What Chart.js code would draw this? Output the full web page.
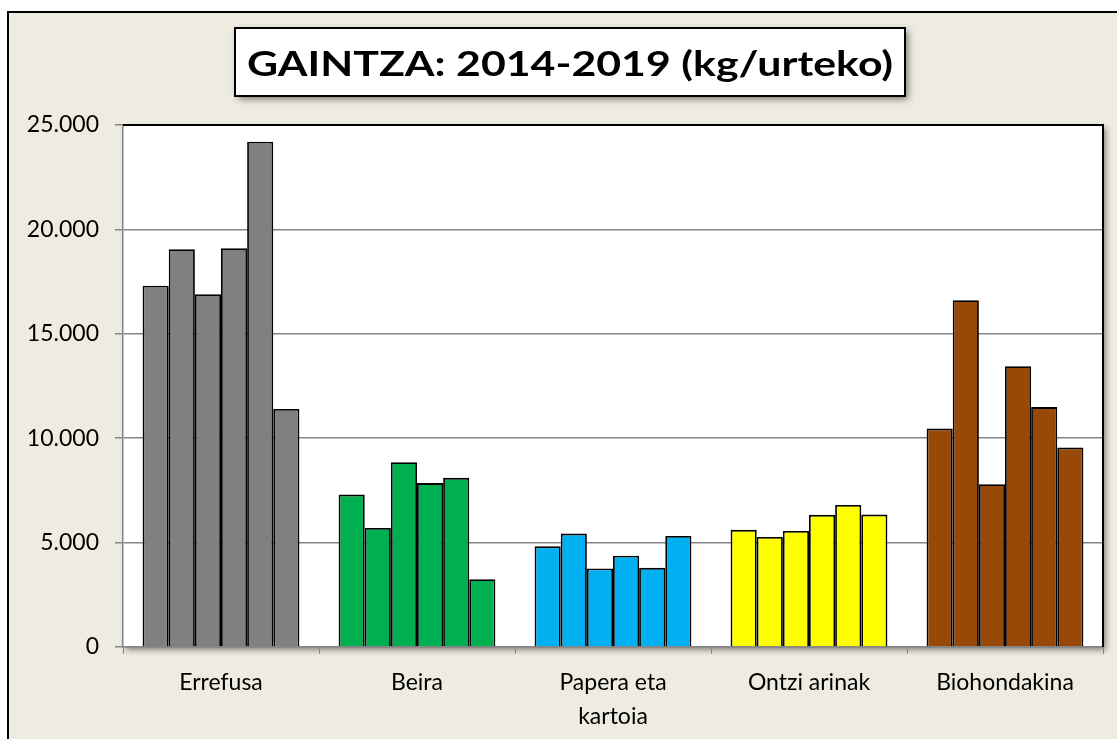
<!DOCTYPE html>
<html>
<head>
<meta charset="utf-8">
<style>
  html, body { margin: 0; padding: 0; background: #ffffff; }
  #wrap { width: 1117px; height: 739px; position: relative; }
</style>
<script src="https://cdn.jsdelivr.net/npm/chart.js@4/dist/chart.umd.min.js"></script>
</head>
<body>
<div id="wrap"><canvas id="gaintza"></canvas></div>
<script>
// Datuak (kg/urteko), 2014-2019
const kategoriak = ['Errefusa', 'Beira', ['Papera eta', 'kartoia'], 'Ontzi arinak', 'Biohondakina'];
const urteak = ['2014', '2015', '2016', '2017', '2018', '2019'];
const errefusa = [17300, 19050, 16900, 19100, 24200, 11400];
const beira = [7300, 5700, 8850, 7850, 8100, 3250];
const paperaKartoia = [4820, 5430, 3760, 4370, 3790, 5320];
const ontziArinak = [5610, 5270, 5560, 6330, 6800, 6340];
const biohondakina = [10460, 16610, 7800, 13450, 11490, 9550];
const yTicks = [0, 5000, 10000, 15000, 20000, 25000];

const izenburua = 'GAINTZA: 2014-2019 (kg/urteko)';
const koloreak = ['#808080', '#00B050', '#00B0F0', '#FFFF00', '#984807'];

// Urte bakoitzeko dataset bat (kategoria bakoitzeko balio bat)
const serieak = [errefusa, beira, paperaKartoia, ontziArinak, biohondakina];
const datasets = urteak.map((urtea, i) => ({
  label: urtea,
  data: serieak.map(s => s[i]),
  backgroundColor: koloreak,
  borderColor: '#000000',
  borderWidth: 1.8,
  borderSkipped: 'bottom',
  categoryPercentage: 0.8,
  barPercentage: 1.0
}));

function formatua(v) {
  return String(v).replace(/\B(?=(\d{3})+(?!\d))/g, '.');
}

// Atzealdea, grafiko-eremua eta izenburua
const apaingarriak = {
  id: 'apaingarriak',
  beforeDraw(chart) {
    const ctx = chart.ctx;
    const a = chart.chartArea;
    ctx.save();
    ctx.fillStyle = '#ffffff';
    ctx.fillRect(0, 0, chart.width, chart.height);
    // kanpoko markoa
    ctx.fillStyle = '#EEECE1';
    ctx.fillRect(8, 12, chart.width, chart.height);
    ctx.strokeStyle = '#000000';
    ctx.lineWidth = 2;
    ctx.beginPath();
    ctx.moveTo(8, chart.height + 5);
    ctx.lineTo(8, 12);
    ctx.lineTo(chart.width + 5, 12);
    ctx.stroke();
    // grafiko-eremua itzalarekin
    ctx.shadowColor = 'rgba(0,0,0,0.45)';
    ctx.shadowBlur = 6;
    ctx.shadowOffsetX = 3;
    ctx.shadowOffsetY = 3;
    ctx.fillStyle = '#ffffff';
    ctx.fillRect(a.left, a.top, a.right - a.left, a.bottom - a.top);
    ctx.shadowColor = 'transparent';
    // izenburuaren kutxa
    const bx = 235, by = 28, bw = 670, bh = 68;
    ctx.shadowColor = 'rgba(0,0,0,0.5)';
    ctx.shadowBlur = 7;
    ctx.shadowOffsetX = 3;
    ctx.shadowOffsetY = 3;
    ctx.fillStyle = '#ffffff';
    ctx.fillRect(bx, by, bw, bh);
    ctx.shadowColor = 'transparent';
    ctx.strokeStyle = '#000000';
    ctx.lineWidth = 2;
    ctx.strokeRect(bx, by, bw, bh);
    // testua kutxaren zabalerara egokitu
    ctx.fillStyle = '#000000';
    ctx.font = 'bold 34px Lato';
    ctx.textAlign = 'center';
    ctx.textBaseline = 'alphabetic';
    const zabalera = ctx.measureText(izenburua).width;
    const sx = 646 / zabalera;
    ctx.translate(bx + bw / 2, 76);
    ctx.scale(sx, 1);
    ctx.fillText(izenburua, 0, 0);
    ctx.restore();
  },
  afterDraw(chart) {
    const ctx = chart.ctx;
    const a = chart.chartArea;
    ctx.save();
    ctx.strokeStyle = '#000000';
    ctx.lineWidth = 2;
    ctx.beginPath();
    ctx.moveTo(a.left, a.top);
    ctx.lineTo(a.right, a.top);
    ctx.lineTo(a.right, a.bottom);
    ctx.stroke();
    ctx.restore();
  }
};

new Chart(document.getElementById('gaintza'), {
  type: 'bar',
  data: { labels: kategoriak, datasets: datasets },
  options: {
    responsive: true,
    maintainAspectRatio: false,
    animation: false,
    devicePixelRatio: 1,
    layout: { padding: { top: 125, right: 14, bottom: 0, left: 0 } },
    plugins: {
      legend: { display: false },
      title: { display: false },
      tooltip: { enabled: false }
    },
    scales: {
      x: {
        grid: {
          offset: true,
          drawOnChartArea: false,
          color: '#868686',
          tickLength: 7
        },
        border: { color: '#868686', width: 1.5 },
        ticks: {
          color: '#000000',
          font: { family: 'Lato', size: 23, lineHeight: 1.5 },
          padding: 11,
          maxRotation: 0,
          autoSkip: false
        },
        afterFit(scale) { scale.height = 92; }
      },
      y: {
        min: 0,
        max: 25000,
        afterBuildTicks(scale) { scale.ticks = yTicks.map(v => ({ value: v })); },
        grid: { color: '#868686', lineWidth: 1.5, tickLength: 8 },
        border: { color: '#868686', width: 1.5 },
        ticks: {
          color: '#000000',
          font: { family: 'Lato', size: 23 },
          padding: 16,
          callback: v => formatua(v)
        },
        afterFit(scale) { scale.width = 123; }
      }
    }
  },
  plugins: [apaingarriak]
});
</script>
</body>
</html>
